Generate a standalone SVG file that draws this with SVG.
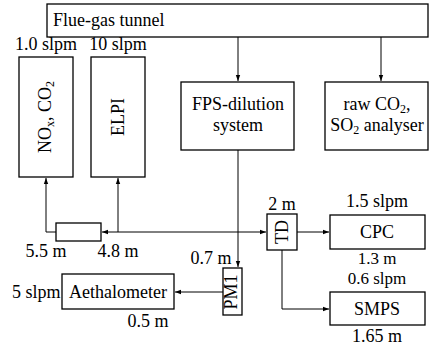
<svg xmlns="http://www.w3.org/2000/svg" width="430" height="349" viewBox="0 0 430 349" font-family="Liberation Serif, serif">
<defs>
<marker id="ah" viewBox="0 0 6 6" refX="6" refY="3" markerWidth="6" markerHeight="6" orient="auto" markerUnits="userSpaceOnUse">
<path d="M0,0.8 L6,3 L0,5.2 Z" fill="#000"/>
</marker>
</defs>
<style>
text{font-family:"Liberation Serif",serif;font-size:18px;fill:#000}
.m{text-anchor:middle}
.s{font-size:17px}
.box{fill:#fff;stroke:#000;stroke-width:1.3}
.w{fill:none;stroke:#000;stroke-width:1}
.sub{font-size:12px}
</style>
<rect width="430" height="349" fill="#fff"/>
<g id="connectors">
<path class="w" d="M238,37 V81" marker-end="url(#ah)"/>
<path class="w" d="M381,37 V81" marker-end="url(#ah)"/>
<path class="w" d="M238,150 V267" marker-end="url(#ah)"/>
<path class="w" d="M238,232 H102" marker-end="url(#ah)"/>
<path class="w" d="M238,232 H266" marker-end="url(#ah)"/>
<path class="w" d="M118,232 V178" marker-end="url(#ah)"/>
<path class="w" d="M56,232 H46 V178" marker-end="url(#ah)"/>
<path class="w" d="M297,232 H329" marker-end="url(#ah)"/>
<path class="w" d="M282,250 V309 H329" marker-end="url(#ah)"/>
<path class="w" d="M223,292 H175" marker-end="url(#ah)"/>
</g>
<g id="tunnel">
<rect class="box" x="47" y="4" width="381" height="33"/>
<text x="53" y="26">Flue-gas tunnel</text>
</g>
<g id="nox">
<rect class="box" x="19" y="57" width="54" height="120"/>
<text class="m" transform="translate(51,117) rotate(-90)">NO<tspan class="sub" dy="3">x</tspan><tspan dy="-3">, CO</tspan><tspan class="sub" dy="3">2</tspan></text>
<text class="m" x="46" y="50">1.0 slpm</text>
</g>
<g id="elpi">
<rect class="box" x="91" y="57" width="54" height="120"/>
<text class="m" transform="translate(124,117) rotate(-90)">ELPI</text>
<text class="m" x="118" y="50">10 slpm</text>
</g>
<g id="fps">
<rect class="box" x="181" y="82" width="113" height="68"/>
<text class="m" x="238" y="110">FPS-dilution</text>
<text class="m" x="238" y="131">system</text>
</g>
<g id="raw">
<rect class="box" x="325" y="82" width="103" height="68"/>
<text class="m" x="377" y="110">raw CO<tspan class="sub" dy="3">2</tspan><tspan dy="-3">,</tspan></text>
<text class="m" x="377" y="131">SO<tspan class="sub" dy="3">2</tspan><tspan dy="-3"> analyser</tspan></text>
</g>
<g id="splitter">
<rect class="box" x="56" y="223" width="45" height="18"/>
<text class="m" x="46" y="257">5.5 m</text>
<text class="m" x="118" y="257">4.8 m</text>
</g>
<g id="td">
<rect class="box" x="267" y="214" width="30" height="36"/>
<text class="m" transform="translate(288,232) rotate(-90)">TD</text>
<text class="m" x="282" y="210">2 m</text>
</g>
<g id="cpc">
<rect class="box" x="330" y="215" width="95" height="34"/>
<text class="m" x="377" y="238">CPC</text>
<text class="m" x="377" y="207">1.5 slpm</text>
<text class="m s" x="377" y="264">1.3 m</text>
</g>
<g id="smps">
<rect class="box" x="330" y="292" width="95" height="33"/>
<text class="m" x="377" y="315">SMPS</text>
<text class="m s" x="377" y="284">0.6 slpm</text>
<text class="m" x="377" y="342">1.65 m</text>
</g>
<g id="pm1">
<rect class="box" x="223" y="268" width="19" height="47"/>
<text class="m" transform="translate(237,292) rotate(-90)">PM1</text>
<text class="m" x="211" y="264">0.7 m</text>
</g>
<g id="aeth">
<rect class="box" x="62" y="274" width="112" height="35"/>
<text class="m" x="118" y="298">Aethalometer</text>
<text x="12" y="298">5 slpm</text>
<text class="m" x="148" y="327">0.5 m</text>
</g>
</svg>
